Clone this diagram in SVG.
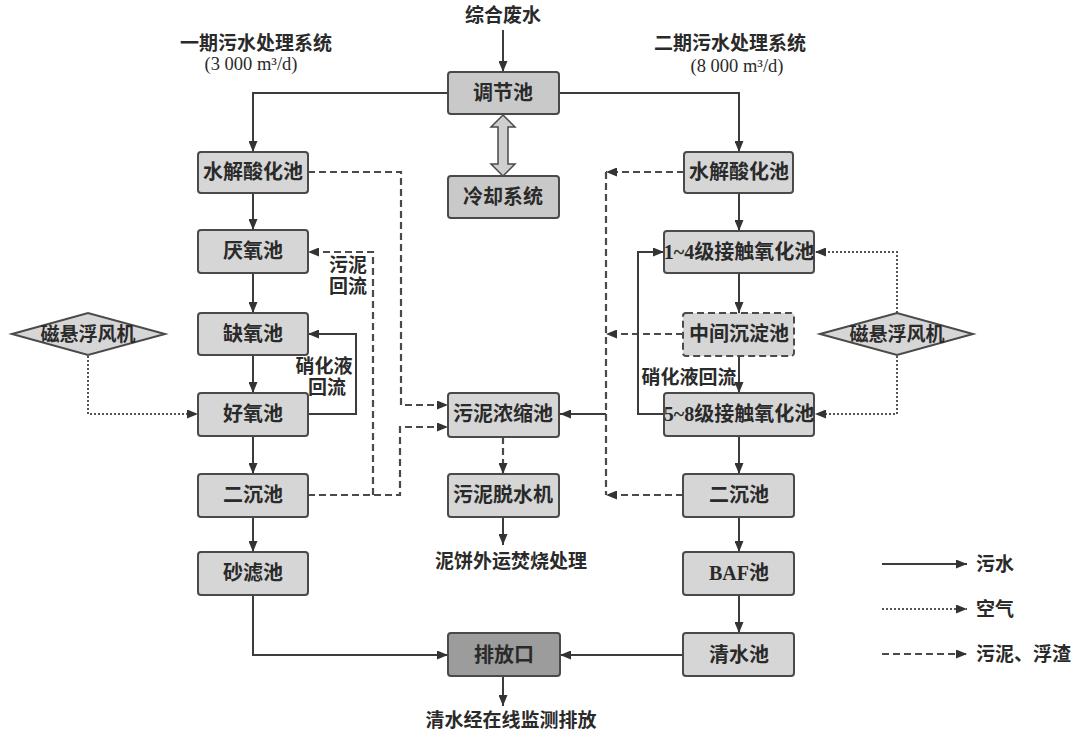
<svg xmlns="http://www.w3.org/2000/svg" width="1080" height="736" viewBox="0 0 1080 736">
<style>
text{font-family:"Liberation Serif","Noto Sans CJK SC",serif;font-size:19px;font-weight:bold;fill:#2a2a2a;dominant-baseline:central;text-anchor:middle}
.bt{font-size:20px}
.box{fill:#d6d6d6;stroke:#4a4a4a;stroke-width:2}
.dark{fill:#9c9c9c}
.mid{fill:#c9c9c9}
.dbox{fill:#d6d6d6;stroke:#4a4a4a;stroke-width:2;stroke-dasharray:7,4}
.dia{fill:#d6d6d6;stroke:#4a4a4a;stroke-width:2}
.s{fill:none;stroke:#3c3c3c;stroke-width:2;marker-end:url(#ah)}
.sn{fill:none;stroke:#3c3c3c;stroke-width:2}
.d{fill:none;stroke:#4a4a4a;stroke-width:2.2;stroke-dasharray:7,4;marker-end:url(#ah)}
.dn{fill:none;stroke:#4a4a4a;stroke-width:2.2;stroke-dasharray:7,4}
.o{fill:none;stroke:#555;stroke-width:2;stroke-dasharray:2,2;marker-end:url(#ah)}
.num{font-weight:normal;font-size:18.5px}
.lg{text-anchor:start}
</style>
<defs>
<marker id="ah" markerUnits="userSpaceOnUse" markerWidth="11" markerHeight="9" refX="11" refY="4.5" orient="auto">
<path d="M0,0 L11,4.5 L0,9 z" fill="#333"/>
</marker>
</defs>

<g id="titles">
<text x="503" y="15">综合废水</text>
<text x="256" y="43">一期污水处理系统</text>
<text x="251" y="64" class="num">(3 000 m³/d)</text>
<text x="730" y="43">二期污水处理系统</text>
<text x="737" y="66" class="num">(8 000 m³/d)</text>
<text x="348" y="265">污泥</text>
<text x="348" y="286">回流</text>
<text x="324" y="366">硝化液</text>
<text x="327" y="387">回流</text>
<text x="689" y="377">硝化液回流</text>
<text x="511" y="561">泥饼外运焚烧处理</text>
<text x="511" y="720">清水经在线监测排放</text>
</g>

<g id="connectors">
<path class="s" d="M503,30 V72"/>
<path class="s" d="M448,93 H253 V152"/>
<path class="s" d="M559,93 H739 V152"/>
<polygon points="503,115 515,127 508,127 508,164 515,164 503,176 491,164 498,164 498,127 491,127" fill="#cfcfcf" stroke="#4a4a4a" stroke-width="1.5"/>
<path class="s" d="M253,193 V230"/>
<path class="s" d="M253,273 V313"/>
<path class="s" d="M253,355 V393"/>
<path class="s" d="M253,436 V474"/>
<path class="s" d="M253,517 V552"/>
<path class="s" d="M253,595 V655 H448"/>
<path class="s" d="M739,193 V231"/>
<path class="s" d="M739,273 V313"/>
<path class="s" d="M739,356 V393"/>
<path class="s" d="M739,436 V474"/>
<path class="s" d="M739,517 V552"/>
<path class="s" d="M739,595 V633"/>
<path class="s" d="M683,655 H560"/>
<path class="s" d="M503,676 V706"/>
<path class="s" d="M503,517 V545"/>
<path class="d" d="M503,437 V474"/>
<path class="d" d="M308,172 H401 V405 H448"/>
<path class="d" d="M308,495 H400 V427 H448"/>
<path class="d" d="M373,495 V252 H308"/>
<path class="s" d="M308,414 H356 V334 H308"/>
<path class="o" d="M88,356 V414 H198"/>
<path class="d" d="M684,172 H606"/>
<path class="dn" d="M606,172 V495"/>
<path class="d" d="M683,334 H606"/>
<path class="d" d="M683,495 H606"/>
<path class="s" d="M606,414 H560"/>
<path class="s" d="M664,414 H638 V252 H664"/>
<path class="o" d="M897,313 V252 H815"/>
<path class="o" d="M897,356 V414 H815"/>
</g>

<g id="n-tiaojie"><rect class="box mid" x="448" y="72" width="111" height="42" rx="3"/><text class="bt" x="503" y="93">调节池</text></g>
<g id="n-lengque"><rect class="box mid" x="448" y="176" width="111" height="42" rx="3"/><text class="bt" x="503" y="197">冷却系统</text></g>

<g id="n-l-shuijie"><rect class="box" x="198" y="152" width="110" height="41" rx="3"/><text class="bt" x="253" y="172">水解酸化池</text></g>
<g id="n-l-yanyang"><rect class="box" x="198" y="230" width="110" height="43" rx="3"/><text class="bt" x="253" y="251">厌氧池</text></g>
<g id="n-l-queyang"><rect class="box" x="198" y="313" width="110" height="42" rx="3"/><text class="bt" x="253" y="334">缺氧池</text></g>
<g id="n-l-haoyang"><rect class="box" x="198" y="393" width="110" height="43" rx="3"/><text class="bt" x="253" y="414">好氧池</text></g>
<g id="n-l-erchen"><rect class="box" x="198" y="474" width="110" height="43" rx="3"/><text class="bt" x="253" y="495">二沉池</text></g>
<g id="n-l-shalv"><rect class="box" x="198" y="552" width="110" height="43" rx="3"/><text class="bt" x="253" y="573">砂滤池</text></g>

<g id="n-nongsuo"><rect class="box" x="448" y="393" width="111" height="44" rx="3"/><text class="bt" x="503" y="414">污泥浓缩池</text></g>
<g id="n-tuoshui"><rect class="box" x="448" y="474" width="111" height="43" rx="3"/><text class="bt" x="503" y="495">污泥脱水机</text></g>
<g id="n-paifang"><rect class="box dark" x="448" y="633" width="112" height="43" rx="3"/><text class="bt" x="504" y="655">排放口</text></g>

<g id="n-r-shuijie"><rect class="box" x="684" y="152" width="109" height="41" rx="3"/><text class="bt" x="739" y="172">水解酸化池</text></g>
<g id="n-r-jc14"><rect class="box" x="664" y="231" width="150" height="42" rx="3"/><text class="bt" x="739" y="252">1~4级接触氧化池</text></g>
<g id="n-r-zhongjian"><rect class="dbox" x="683" y="313" width="111" height="43" rx="3"/><text class="bt" x="739" y="334">中间沉淀池</text></g>
<g id="n-r-jc58"><rect class="box" x="664" y="393" width="150" height="43" rx="3"/><text class="bt" x="739" y="414">5~8级接触氧化池</text></g>
<g id="n-r-erchen"><rect class="box" x="683" y="474" width="111" height="43" rx="3"/><text class="bt" x="739" y="495">二沉池</text></g>
<g id="n-r-baf"><rect class="box" x="683" y="552" width="111" height="43" rx="3"/><text class="bt" x="739" y="573">BAF池</text></g>
<g id="n-r-qingshui"><rect class="box" x="683" y="633" width="111" height="43" rx="3"/><text class="bt" x="739" y="655">清水池</text></g>

<g id="n-l-fengji"><polygon class="dia" points="12,334 88,313 165,334 88,355"/><text x="88" y="334">磁悬浮风机</text></g>
<g id="n-r-fengji"><polygon class="dia" points="820,334 897,313 973,334 897,355"/><text x="897" y="334">磁悬浮风机</text></g>

<g id="legend">
<path class="s" d="M882,564 H967"/>
<text class="lg" x="976" y="564">污水</text>
<path class="o" d="M882,609 H967"/>
<text class="lg" x="976" y="609">空气</text>
<path class="d" d="M882,654 H967"/>
<text class="lg" x="976" y="654">污泥、浮渣</text>
</g>
</svg>
